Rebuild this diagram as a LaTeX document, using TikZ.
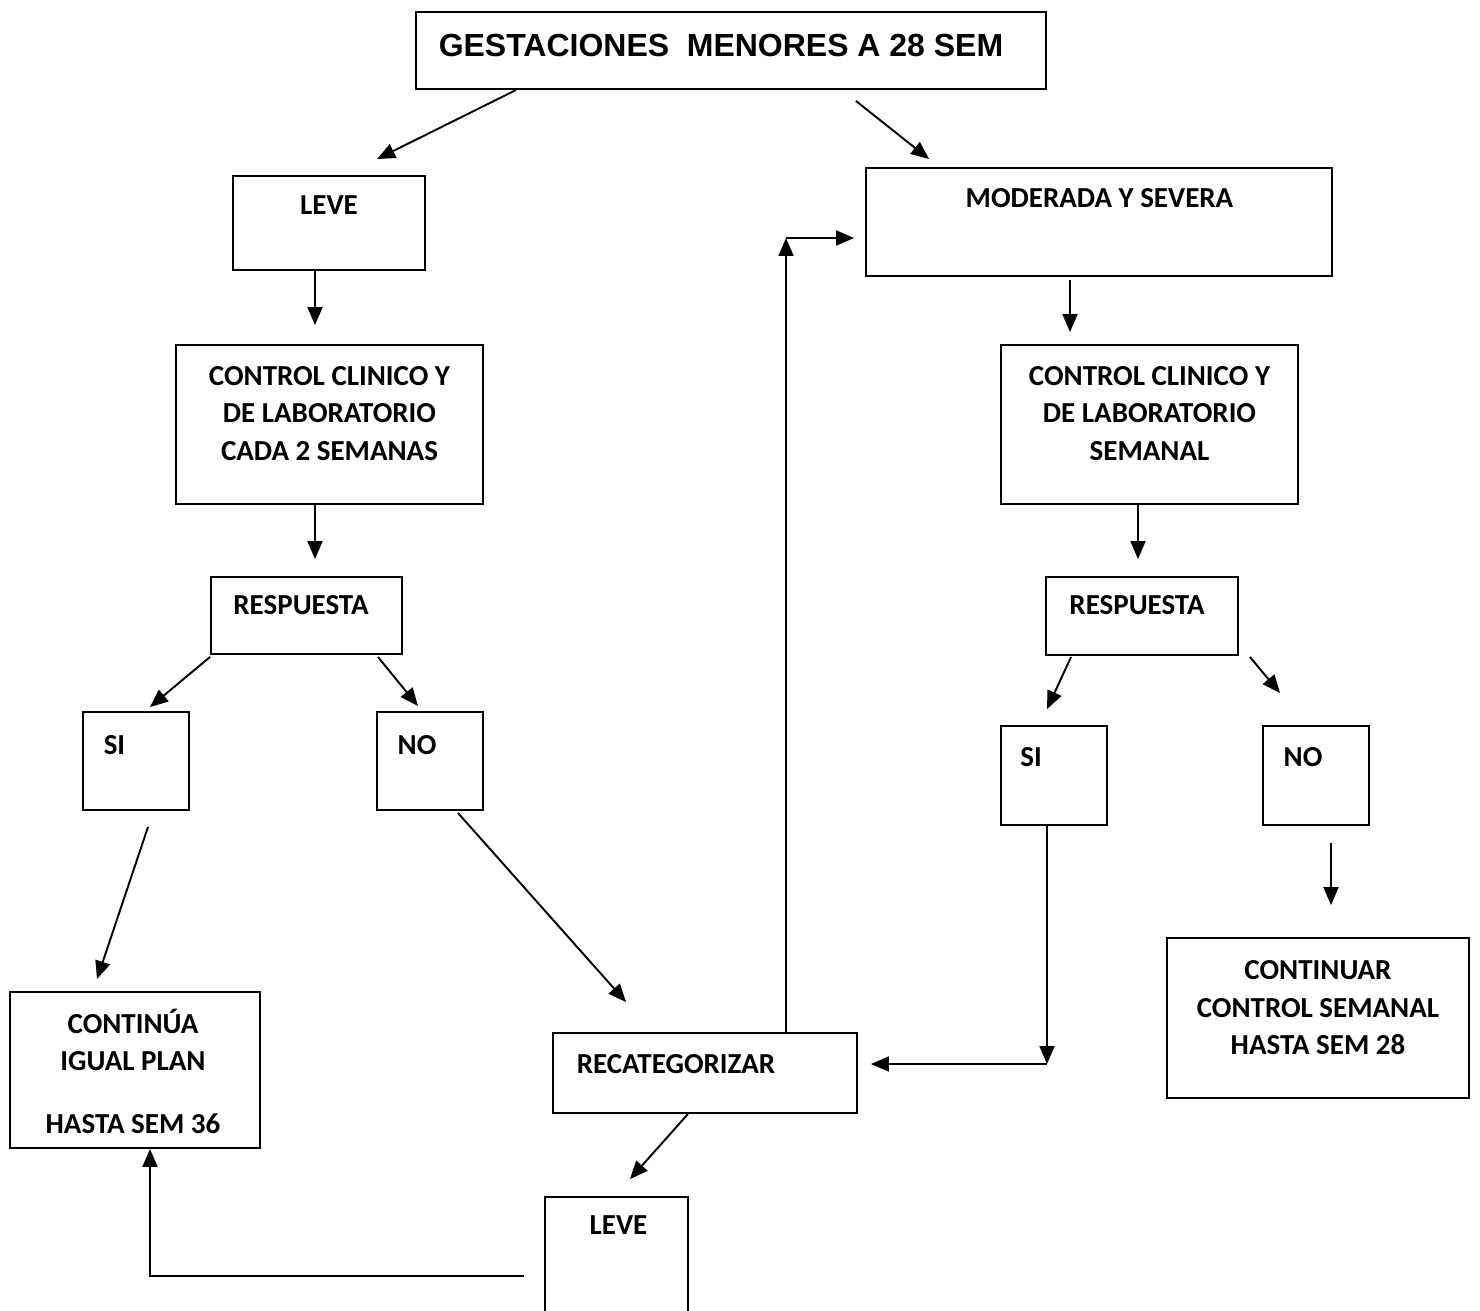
\documentclass[tikz,border=0pt]{standalone}
\usepackage{fontspec}
\setmainfont{Carlito}
\newfontfamily\arialfont{Liberation Sans}
\usetikzlibrary{arrows.meta}

\begin{document}
\begin{tikzpicture}[x=0.02cm, y=-0.02cm,
  caja/.style={draw, line width=1.1pt, inner sep=0pt},
  txt/.style={font=\bfseries\fontsize{16.5}{21.3}\selectfont, align=center, inner sep=0pt},
  flecha/.style={line width=1.1pt, ->, >={Triangle[length=0.36cm,width=0.3cm]}}]
\clip (0,0) rectangle (1480,1311);
% cajas
\node[caja, minimum width=12.6cm, minimum height=1.54cm] (top) at (731,50.5) {};
\node[caja, minimum width=3.84cm, minimum height=1.88cm] (leve1) at (329,223) {};
\node[caja, minimum width=9.32cm, minimum height=2.16cm] (mod) at (1099,222) {};
\node[caja, minimum width=6.14cm, minimum height=3.18cm] (ctrlL) at (329.5,424.5) {};
\node[caja, minimum width=5.94cm, minimum height=3.18cm] (ctrlR) at (1149.5,424.5) {};
\node[caja, minimum width=3.82cm, minimum height=1.54cm] (respL) at (306.5,615.5) {};
\node[caja, minimum width=3.84cm, minimum height=1.56cm] (respR) at (1142,616) {};
\node[caja, minimum width=2.12cm, minimum height=1.96cm] (siL) at (136,761) {};
\node[caja, minimum width=2.12cm, minimum height=1.96cm] (noL) at (430,761) {};
\node[caja, minimum width=2.12cm, minimum height=1.98cm] (siR) at (1054,775.5) {};
\node[caja, minimum width=2.12cm, minimum height=1.98cm] (noR) at (1316,775.5) {};
\node[caja, minimum width=5.0cm, minimum height=3.12cm] (contL) at (135,1070) {};
\node[caja, minimum width=6.08cm, minimum height=1.6cm] (recat) at (705,1073) {};
\node[caja, minimum width=6.04cm, minimum height=3.2cm] (contR) at (1318,1018) {};
\node[caja, minimum width=2.86cm, minimum height=2.86cm] (leve2) at (616.5,1268.5) {};
% textos
\node[inner sep=0pt, font=\arialfont\bfseries\fontsize{18.2}{22}\selectfont] (ttop) at (721,45) {GESTACIONES\ \ MENORES A 28 SEM};
\node[txt] (tleve1) at (329,205) {LEVE};
\node[txt] (tmod) at (1099.5,198) {MODERADA Y SEVERA};
\node[txt] (tctrlL) at (329.5,413.5) {CONTROL CLINICO Y\\DE LABORATORIO\\CADA 2 SEMANAS};
\node[txt] (tctrlR) at (1149.5,413.5) {CONTROL CLINICO Y\\DE LABORATORIO\\SEMANAL};
\node[txt] (trespL) at (301,605) {RESPUESTA};
\node[txt] (trespR) at (1137,605) {RESPUESTA};
\node[txt] (tsiL) at (114.5,745) {SI};
\node[txt] (tnoL) at (417,745) {NO};
\node[txt] (tsiR) at (1031,757) {SI};
\node[txt] (tnoR) at (1303,757) {NO};
\node[txt] (tcontL) at (133,1071) {CONTINÚA\\IGUAL PLAN\\[0.5cm]HASTA SEM 36};
\node[txt] (trecat) at (676,1064) {RECATEGORIZAR};
\node[txt] (tcontR) at (1318,1008) {CONTINUAR\\CONTROL SEMANAL\\HASTA SEM 28};
\node[txt] (tleve2) at (618.5,1225) {LEVE};
% esquinas
\coordinate (c1) at (1047,1064);
\coordinate (c2) at (786,238);
% flechas
\draw[flecha] ([shift={(101,0)}]top.south west) -- ([shift={(145,-16)}]leve1.north west);
\draw[flecha] ([shift={(-191,11)}]top.south east) -- ([shift={(64,-8)}]mod.north west);
\draw[flecha] ([shift={(-14,0)}]leve1.south) -- ([shift={(-14.5,-19)}]ctrlL.north);
\draw[flecha] ([shift={(-29,3)}]mod.south) -- ([shift={(-79.5,-12)}]ctrlR.north);
\draw[flecha] ([shift={(-14.5,0)}]ctrlL.south) -- ([shift={(8.5,-17)}]respL.north);
\draw[flecha] ([shift={(-11.5,0)}]ctrlR.south) -- ([shift={(-4,-17)}]respR.north);
\draw[flecha] ([shift={(0,2)}]respL.south west) -- ([shift={(14,-4)}]siL.north);
\draw[flecha] ([shift={(-25,2)}]respL.south east) -- ([shift={(-12,-5)}]noL.north);
\draw[flecha] ([shift={(26,1)}]respR.south west) -- ([shift={(-7,-16)}]siR.north);
\draw[flecha] ([shift={(11,1)}]respR.south east) -- ([shift={(-36,-32)}]noR.north);
\draw[flecha] ([shift={(15,17)}]noR.south) -- ([shift={(13,-32)}]contR.north);
\draw[flecha] ([shift={(12,16)}]siL.south) -- ([shift={(-38,-12)}]contL.north);
\draw[flecha] ([shift={(-26,2)}]noL.south east) -- ([shift={(74,-30)}]recat.north west);
\draw[flecha] ([shift={(-7,0)}]siR.south) -- (c1);
\draw[flecha] (c1) -- ([shift={(13,-9)}]recat.east);
\draw[flecha] ([shift={(81,0)}]recat.north) -- (c2);
\draw[flecha] (c2) -- ([shift={(-11,16)}]mod.west);
\draw[flecha] ([shift={(-17,0)}]recat.south) -- ([shift={(13.5,-17)}]leve2.north);
\draw[flecha] ([shift={(-20,7.5)}]leve2.west) -| ([shift={(15,0)}]contL.south);
\end{tikzpicture}
\end{document}
